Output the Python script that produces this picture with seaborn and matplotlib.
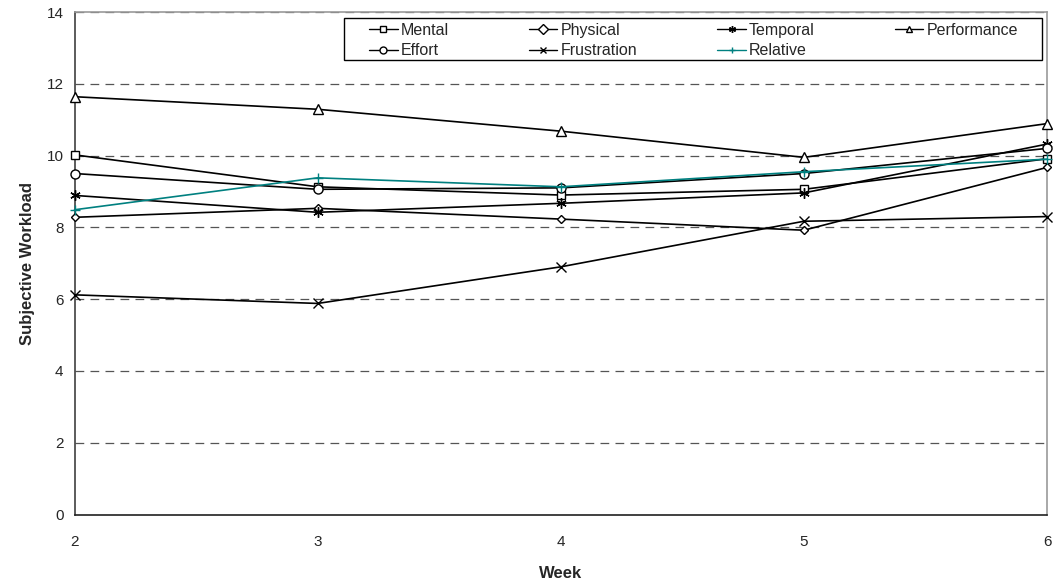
import matplotlib
matplotlib.use("Agg")
import matplotlib.pyplot as plt
from matplotlib.patches import Rectangle
import seaborn as sns
import pandas as pd

weeks = [2, 3, 4, 5, 6]
mental = [10.02, 9.13, 8.90, 9.06, 9.91]
physical = [8.28, 8.53, 8.23, 7.92, 9.67]
temporal = [8.89, 8.42, 8.67, 8.96, 10.32]
performance = [11.64, 11.29, 10.68, 9.95, 10.89]
effort = [9.50, 9.06, 9.10, 9.50, 10.20]
frustration = [6.12, 5.88, 6.90, 8.17, 8.30]
relative = [8.49, 9.38, 9.13, 9.55, 9.90]

series = {
    "Mental": mental,
    "Physical": physical,
    "Temporal": temporal,
    "Performance": performance,
    "Effort": effort,
    "Frustration": frustration,
    "Relative": relative,
}

styles = {
    "Mental": dict(marker="s", ms=6, color="black"),
    "Physical": dict(marker="D", ms=4.3, color="black"),
    "Temporal": dict(marker=(6, 2, 0), ms=7.5, color="black"),
    "Performance": dict(marker="^", ms=6.5, color="black"),
    "Effort": dict(marker="o", ms=6.5, color="black"),
    "Frustration": dict(marker="x", ms=6.5, color="black"),
    "Relative": dict(marker="+", ms=7.5, color="#008080"),
}

df = pd.DataFrame(
    [(name, w, v) for name, vals in series.items() for w, v in zip(weeks, vals)],
    columns=["series", "week", "value"],
)

sns.set_style("white")
plt.rcParams["font.family"] = ["Liberation Sans", "DejaVu Sans"]

W, H = 1053, 581
fig = plt.figure(figsize=(W / 100, H / 100), dpi=100)
ax = fig.add_axes([74.5 / W, 1 - 514.5 / H, (1047 - 74.5) / W, (514.5 - 12) / H])

handles = {}
for name in series:
    st = styles[name]
    sub = df[df["series"] == name]
    sns.lineplot(data=sub, x="week", y="value", ax=ax, color=st["color"],
                 linewidth=1.2, legend=False)
    line = ax.lines[-1]
    line.set_marker(st["marker"])
    line.set_markersize(st["ms"])
    line.set_markerfacecolor("white")
    line.set_markeredgecolor(st["color"])
    line.set_markeredgewidth(1.0)
    line.set_clip_on(False)
    line.set_zorder(3)
    handles[name] = line

ax.set_xlim(2, 6)
ax.set_ylim(0, 14)
ax.set_xticks(weeks)
ax.set_yticks(range(0, 15, 2))
ax.tick_params(axis="y", direction="out", length=4, width=1, labelsize=11, pad=4, color="#404040")
ax.tick_params(axis="x", direction="inout", length=8, width=1, labelsize=11, pad=11, color="#202020")

for y in range(2, 15, 2):
    ax.axhline(y, color="#555555", linewidth=0.9, linestyle=(0, (7, 5)), zorder=0)

ax.spines["left"].set_color("#404040")
ax.spines["bottom"].set_color("#202020")
ax.spines["top"].set_color("#9a9a9a")
ax.spines["right"].set_color("#9a9a9a")
for s in ax.spines.values():
    s.set_linewidth(1.2)

ax.set_xlabel("Week", fontsize=12, fontweight="bold", labelpad=12)
ax.set_ylabel("Subjective Workload", fontsize=12, fontweight="bold", labelpad=8)

# Legend entries laid out column by column (4 columns, 2 rows)
order = ["Mental", "Effort", "Physical", "Frustration", "Temporal", "Relative", "Performance"]
leg = ax.legend(
    [handles[n] for n in order], order, ncol=4, loc="upper left",
    bbox_to_anchor=(364 / W, 1 - 18 / H), bbox_transform=fig.transFigure,
    fontsize=11.5, frameon=False,
    handlelength=1.8, handletextpad=0.2, columnspacing=5.0,
    labelspacing=0.35, borderpad=0.3, borderaxespad=0,
)
for h in leg.legend_handles:
    h.set_markersize(5)
    h.set_linewidth(1.0)
    h.set_clip_on(False)

# Legend box
fig.patches.append(Rectangle((344 / W, 1 - 60 / H), (1041.5 - 344) / W, 42 / H,
                             transform=fig.transFigure, fill=False,
                             edgecolor="black", linewidth=1.0, zorder=5))

fig.savefig("out.png", dpi=100)
